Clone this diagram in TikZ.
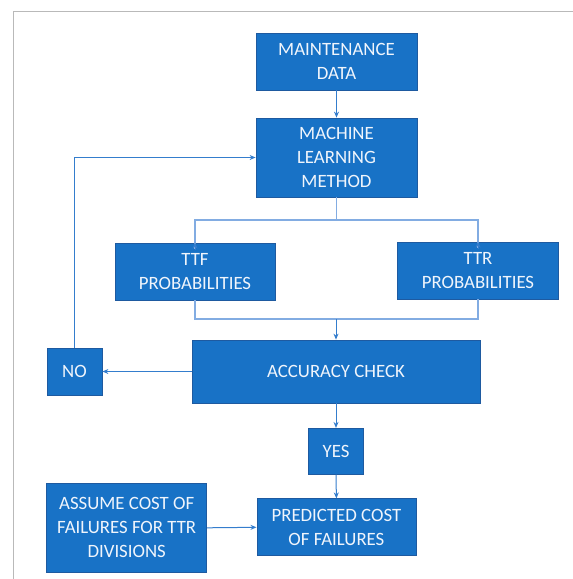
\documentclass[tikz,border=0pt]{standalone}
\usepackage{fontspec}
\setmainfont{Carlito}
\usetikzlibrary{arrows.meta}
\definecolor{boxfill}{RGB}{24,114,198}
\definecolor{boxline}{RGB}{30,90,160}
\definecolor{conn}{RGB}{52,125,205}
\definecolor{connlight}{RGB}{130,172,226}
\definecolor{txt}{RGB}{240,245,252}
\definecolor{frame}{RGB}{185,185,185}
\tikzset{
  box/.style={draw=boxline, line width=0.8pt, fill=boxfill, text=txt, align=center,
    inner sep=0pt, font=\fontsize{18.8}{24}\selectfont},
  conn/.style={draw=conn, line width=1pt, -{Stealth[length=6pt,width=5pt]}},
  connl/.style={draw=connlight, line width=1.4pt},
}
\begin{document}
\begin{tikzpicture}[x=1pt,y=-1pt]
\useasboundingbox (0,0) rectangle (573,579);
\draw[frame, line width=1pt] (13,600) -- (13,11) -- (600,11);
\node[box, minimum width=161pt, minimum height=57pt] (maint) at (336.5,61.5) {MAINTENANCE\\DATA};
\node[box, minimum width=161pt, minimum height=79pt] (ml) at (336.5,157.5) {MACHINE\\LEARNING\\METHOD};
\node[box, minimum width=160pt, minimum height=57pt] (ttf) at (195,271.5) {TTF\\PROBABILITIES};
\node[box, minimum width=161pt, minimum height=57pt] (ttr) at (478,270.5) {TTR\\PROBABILITIES};
\node[box, minimum width=288pt, minimum height=63pt] (acc) at (336,371.5) {ACCURACY CHECK};
\node[box, minimum width=55pt, minimum height=47pt] (no) at (74.5,371.5) {NO};
\node[box, minimum width=55pt, minimum height=46pt] (yes) at (336,451.3) {YES};
\node[box, minimum width=160pt, minimum height=89pt] (assume) at (126.7,527.8) {ASSUME COST OF\\FAILURES FOR TTR\\DIVISIONS};
\node[box, minimum width=159pt, minimum height=57pt] (pred) at (336.4,527.3) {PREDICTED COST\\OF FAILURES};
\coordinate (split) at (336.5,220);
\coordinate (merge) at (336,319);
\draw[conn] (maint) -- (ml);
\draw[connl] (ml.south) -- (split);
\draw[connl] (split) -| ([yshift=-6pt]ttf.north);
\draw[connl] (split) -| ([yshift=-6pt]ttr.north);
\draw[conn] ([yshift=-7pt]ttf.north) -- (ttf.north);
\draw[conn] ([yshift=-7pt]ttr.north) -- (ttr.north);
\draw[connl] (ttf.south) |- (merge);
\draw[connl] (ttr.south) |- (merge);
\draw[conn] (merge) -- (acc.north);
\draw[conn] (acc.west) -- (no.east);
\draw[conn] (no.north) |- (ml.west);
\draw[conn] (acc.south) -- (yes.north);
\draw[conn] (yes.south) -- (pred.north);
\draw[conn] (assume.east) -- (pred.west);
\end{tikzpicture}
\end{document}
